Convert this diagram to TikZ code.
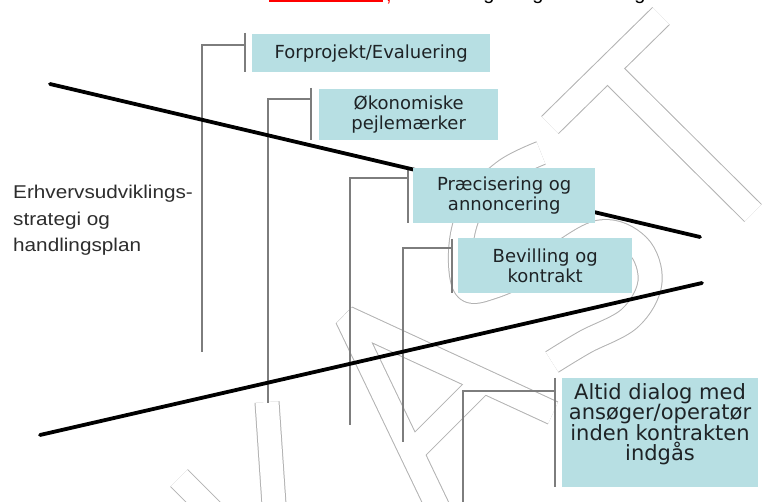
\documentclass[tikz,border=0pt]{standalone}
\usepackage{fontspec}
\setmainfont{DejaVu Sans}
\newfontfamily\sidefont[FakeStretch=1.12]{Liberation Sans}
\newfontfamily\topfont{Liberation Sans}
\definecolor{boxfill}{RGB}{183,223,227}
\definecolor{brkgray}{RGB}{125,125,125}
\definecolor{wmedge}{RGB}{178,178,178}
\definecolor{boxtext}{RGB}{30,35,38}
\definecolor{sidetext}{RGB}{45,45,45}
\begin{document}
\begin{tikzpicture}[x=1pt,y=-1pt,
  stepbox/.style={fill=boxfill, draw=none, inner sep=0pt, anchor=north west, text=boxtext, align=center, font=\fontsize{18}{20.5}\selectfont},
  brk/.style={draw=brkgray, line width=1.3pt},
  heavy/.style={draw=black, line width=3.8pt, line cap=round},
  wm/.style={line cap=butt, line join=bevel},
  toptext/.style={font=\topfont\fontsize{20}{20}\selectfont, anchor=base, inner sep=0pt}
]
\useasboundingbox (0,0) rectangle (763,502);
\fill[white] (0,0) rectangle (763,502);

% faint watermark letters (V A S T)
\foreach \w/\c in {25/wmedge,23/white}{
  \draw[wm, line width=\w pt, draw=\c] (179,478) -- (279,578) -- (267,402);
  \draw[wm, line width=\w pt, draw=\c] (440,512) -- (347,318) -- (553,413);
  \draw[wm, line width=\w pt, draw=\c] (412,452) -- (483,381);
  \draw[wm, line width=\w pt, draw=\c] plot[smooth, tension=0.6] coordinates {(541,153) (505,171) (474,203) (461,245) (466,288) (495,286) (546,262) (600,232) (638,246) (650,282) (630,318) (585,342) (552,362)};
  \draw[wm, line width=\w pt, draw=\c] (550,125) -- (661,16);
  \draw[wm, line width=\w pt, draw=\c] (607,68) -- (753,213);
}

% cut-off caption at the top
\draw[red, line width=2.4pt] (269,1.2) -- (383,1.2);
\node[toptext, text=red] (cm) at (389,1.5) {,};
\node[toptext] (g1) at (489,-0.3) {g};
\node[toptext] (g2) at (538,-0.3) {g};
\node[toptext] (g3) at (640,-0.3) {g};

% bracket coordinates
\coordinate (v1t) at (245,33);  \coordinate (v1b) at (245,72);
\coordinate (h1) at (202,45);   \coordinate (e1) at (202,352);
\coordinate (v2t) at (311,88);  \coordinate (v2b) at (311,140);
\coordinate (h2) at (268,99);   \coordinate (e2) at (268,403);
\coordinate (v3t) at (408,168); \coordinate (v3b) at (408,223);
\coordinate (h3) at (350,178);  \coordinate (e3) at (350,425);
\coordinate (v4t) at (452,239); \coordinate (v4b) at (452,293);
\coordinate (h4) at (403,248);  \coordinate (e4) at (403,442);
\coordinate (v5t) at (555,378); \coordinate (v5b) at (555,487);
\coordinate (h5) at (463,391);  \coordinate (e5) at (463,506);

\draw[brk] (v1t) -- (v1b); \draw[brk] (v1t|-h1) -- (h1) -- (e1);
\draw[brk] (v2t) -- (v2b); \draw[brk] (v2t|-h2) -- (h2) -- (e2);
\draw[brk] (v3t) -- (v3b); \draw[brk] (v3t|-h3) -- (h3) -- (e3);
\draw[brk] (v4t) -- (v4b); \draw[brk] (v4t|-h4) -- (h4) -- (e4);
\draw[brk] (v5t) -- (v5b); \draw[brk] (v5t|-h5) -- (h5) -- (e5);

% upper heavy line (runs behind box 3)
\coordinate (la1) at (50,84);  \coordinate (la2) at (700,237);
\draw[heavy] (la1) -- (la2);

% boxes
\node[stepbox, minimum width=238pt, minimum height=38pt] (b1) at (252,34) {Forprojekt/Evaluering};
\node[stepbox, minimum width=179pt, minimum height=51pt] (b2) at (319,89) {Økonomiske\\pejlemærker};
\node[stepbox, minimum width=182pt, minimum height=55pt] (b3) at (413,168) {Præcisering og\\annoncering};
\node[stepbox, minimum width=174pt, minimum height=55pt] (b4) at (458,238) {Bevilling og\\kontrakt};
\node[stepbox, minimum width=196pt, minimum height=109pt] (b5) at (562,378) {};
\node[text=boxtext, align=center, inner sep=0pt, font=\fontsize{21}{20.5}\selectfont] (t5) at (660,424) {Altid dialog med\\ansøger/operatør\\inden kontrakten\\indgås};

% lower heavy line
\coordinate (lb1) at (40,435);  \coordinate (lb2) at (702,283);
\draw[heavy] (lb1) -- (lb2);

% left text
\node[font=\sidefont\fontsize{18.5}{26.5}\selectfont, text=sidetext, align=left, anchor=north west, inner sep=0pt] (side) at (13,185) {Erhvervsudviklings-\\strategi og\\handlingsplan};
\end{tikzpicture}
\end{document}
